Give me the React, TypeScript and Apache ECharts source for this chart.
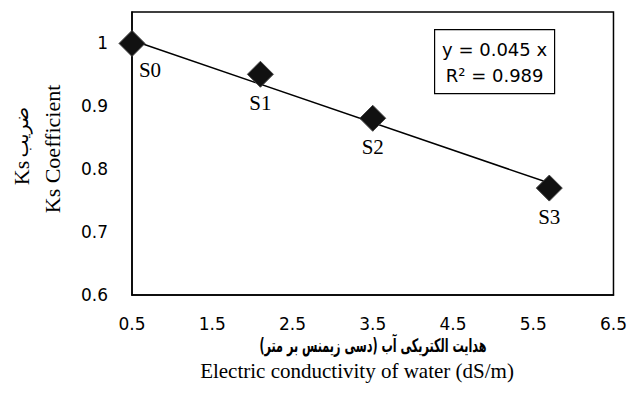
import React, { useEffect, useRef } from "react";
import * as echarts from "echarts";

const sampleNames = ["S0", "S1", "S2", "S3"];
const ecValues = [0.5, 2.1, 3.5, 5.7];
const ksValues = [1.0, 0.951, 0.881, 0.77];
const trendX = [0.5, 5.7];
const trendY = [1.005, 0.778];
const xTicks = [0.5, 1.5, 2.5, 3.5, 4.5, 5.5, 6.5];
const yTicks = [0.6, 0.7, 0.8, 0.9, 1.0];
const equationLines = ["y = 0.045 x", "R\u00b2 = 0.989"];
const yTitleKs = "Ks";
const yTitleFa = "\u0636\u0631\u06cc\u0628";
const yTitleEn = "Ks Coefficient";
const xTitleFa = "\u0647\u062f\u0627\u06cc\u062a \u0627\u0644\u06a9\u062a\u0631\u06cc\u06a9\u06cc \u0622\u0628 (\u062f\u0633\u06cc \u0632\u06cc\u0645\u0646\u0633 \u0628\u0631 \u0645\u062a\u0631)";
const xTitleEn = "Electric conductivity of water (dS/m)";

export default function App() {
  const ref = useRef<HTMLDivElement>(null);
  useEffect(() => {
    if (!ref.current) return;
    const chart = echarts.init(ref.current, null, { renderer: "svg" });
    const serif = "'Liberation Serif', 'Times New Roman', serif";
    const sans = "'DejaVu Sans', sans-serif";
    const scatterData = sampleNames.map((n, i) => ({
      name: n,
      value: [ecValues[i], ksValues[i]],
      label: i === 0 ? { position: "bottom", offset: [18, -2] } : { position: "bottom" },
    }));
    chart.setOption({
      animation: false,
      backgroundColor: "#fff",
      grid: {
        left: 132,
        right: 15,
        top: 12,
        bottom: 99,
        show: true,
        borderColor: "#000",
        borderWidth: 1.5,
        backgroundColor: "transparent",
      },
      xAxis: {
        type: "value",
        min: 0.5,
        max: 6.5,
        interval: 0.5,
        axisLine: { show: true, lineStyle: { color: "#000", width: 1.5 } },
        axisTick: { show: false },
        splitLine: { show: false },
        axisLabel: {
          customValues: xTicks,
          color: "#000",
          fontFamily: sans,
          fontSize: 17,
          margin: 20,
          formatter: (v: number) => String(v),
        },
      },
      yAxis: {
        type: "value",
        min: 0.6,
        max: 1.05,
        interval: 0.1,
        axisLine: { show: true, lineStyle: { color: "#000", width: 1.5 } },
        axisTick: { show: false },
        splitLine: { show: false },
        axisLabel: {
          customValues: yTicks,
          color: "#000",
          fontFamily: sans,
          fontSize: 17,
          margin: 24,
          formatter: (v: number) => String(Math.round(v * 10) / 10),
        },
      },
      series: [
        {
          type: "line",
          data: trendX.map((x, i) => [x, trendY[i]]),
          showSymbol: false,
          symbol: "none",
          lineStyle: { color: "#000", width: 1.5 },
          z: 1,
          silent: true,
        },
        {
          type: "scatter",
          data: scatterData,
          symbol: "diamond",
          symbolSize: 26,
          itemStyle: { color: "#111", borderColor: "#444", borderWidth: 1, opacity: 1 },
          z: 3,
          label: {
            show: true,
            formatter: "{b}",
            position: "bottom",
            distance: 5,
            color: "#000",
            opacity: 1,
            textBorderWidth: 0,
            fontFamily: serif,
            fontSize: 21,
          },
        },
      ],
      graphic: [
        {
          type: "group",
          left: 434,
          top: 29,
          children: [
            {
              type: "rect",
              shape: { x: 0, y: 0, width: 120, height: 64 },
              style: { fill: "#fff", stroke: "#000", lineWidth: 1.2 },
            },
            {
              type: "text",
              x: 60,
              y: 20,
              style: {
                text: equationLines[0],
                font: `18px ${sans}`,
                fill: "#000",
                align: "center",
                verticalAlign: "middle",
              },
            },
            {
              type: "text",
              x: 60,
              y: 46,
              style: {
                text: equationLines[1],
                font: `18px ${sans}`,
                fill: "#000",
                align: "center",
                verticalAlign: "middle",
              },
            },
          ],
        },
        {
          type: "text",
          x: 21,
          y: 146,
          rotation: Math.PI / 2,
          style: {
            text: `{ks|${yTitleKs}} {fa|${yTitleFa}}`,
            rich: {
              ks: { fontFamily: serif, fontSize: 22, fill: "#000", color: "#000" },
              fa: { fontFamily: sans, fontSize: 19, fill: "#000", color: "#000" },
            },
            fill: "#000",
            align: "center",
            verticalAlign: "middle",
          },
        },
        {
          type: "text",
          x: 52,
          y: 149,
          rotation: Math.PI / 2,
          style: {
            text: yTitleEn,
            font: `22px ${serif}`,
            fill: "#000",
            align: "center",
            verticalAlign: "middle",
          },
        },
        {
          type: "text",
          x: 373,
          y: 346,
          scaleX: 0.8,
          scaleY: 1.35,
          style: {
            text: xTitleFa,
            font: `bold 14px 'DejaVu Sans', sans-serif`,
            fill: "#000",
            align: "center",
            verticalAlign: "middle",
          },
        },
        {
          type: "text",
          x: 357,
          y: 371,
          style: {
            text: xTitleEn,
            font: `21px ${serif}`,
            fill: "#000",
            align: "center",
            verticalAlign: "middle",
          },
        },
      ],
    });
    return () => chart.dispose();
  }, []);
  return (
    <div
      ref={ref}
      style={{ position: "fixed", left: 0, top: 0, width: 630, height: 394 }}
    />
  );
}
